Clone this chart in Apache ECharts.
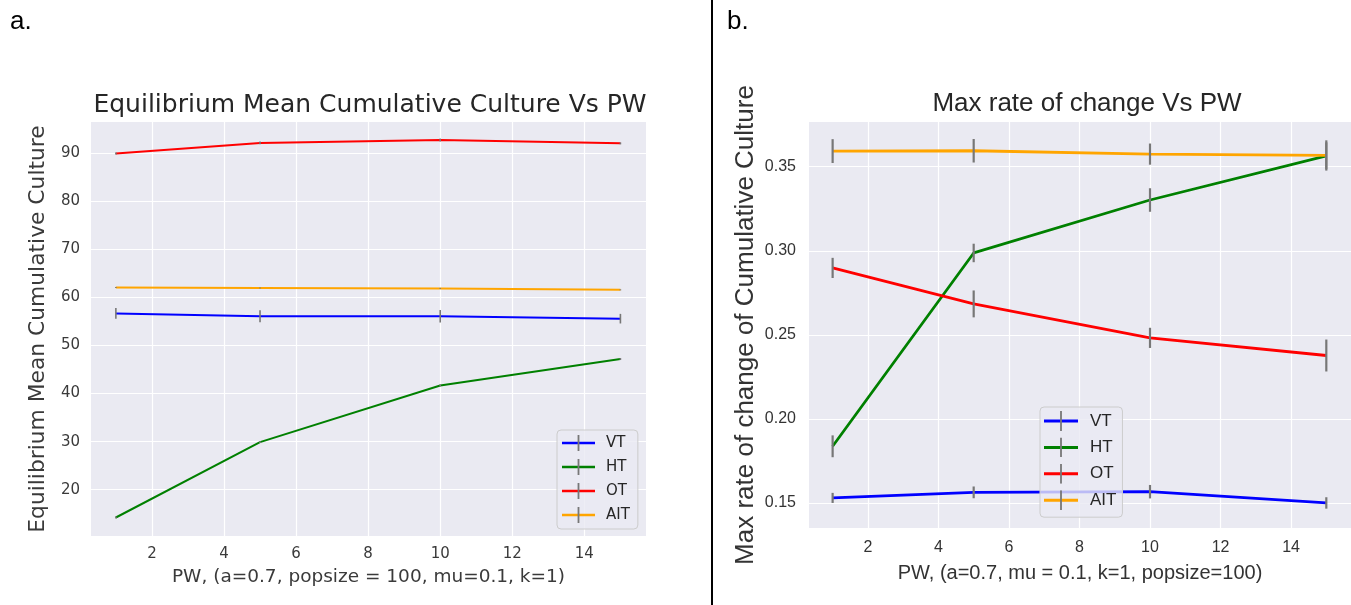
<!DOCTYPE html>
<html><head><meta charset="utf-8">
<script src="https://cdn.jsdelivr.net/npm/echarts@6/dist/echarts.min.js"></script>
<style>html,body{margin:0;padding:0;background:#fff}#c{width:1351px;height:605px}</style>
</head><body><div id="c"></div>
<script>
// ---- data ----
const pw = [1, 5, 10, 15];
const seriesNames = ['VT', 'HT', 'OT', 'AIT'];
const seriesColors = ['#0000ff', '#008000', '#ff0000', '#ffa500'];

// panel a: equilibrium mean cumulative culture
const eqVT  = [56.7, 56.1, 56.1, 55.6];
const eqHT  = [14.2, 29.9, 41.7, 47.2];
const eqOT  = [90.0, 92.2, 92.8, 92.1];
const eqAIT = [62.1, 62.0, 61.9, 61.6];
const eqVTerr  = [1.1, 1.25, 1.3, 1.0];
const eqHTerr  = [0.2, 0.2, 0.2, 0.2];
const eqOTerr  = [0.2, 0.3, 0.3, 0.2];
const eqAITerr = [0.1, 0.1, 0.1, 0.1];

// panel b: max rate of change
const rateVT  = [0.1530, 0.1563, 0.1567, 0.1500];
const rateHT  = [0.1837, 0.2987, 0.3302, 0.3565];
const rateOT  = [0.2898, 0.2684, 0.2482, 0.2377];
const rateAIT = [0.3593, 0.3595, 0.3575, 0.3567];
const rateVTerr  = [0.0030, 0.0035, 0.0040, 0.0034];
const rateHTerr  = [0.0065, 0.0055, 0.0070, 0.0080];
const rateOTerr  = [0.0060, 0.0080, 0.0060, 0.0095];
const rateAITerr = [0.0071, 0.0070, 0.0063, 0.0090];

// tick labels
const xTicks = [2, 4, 6, 8, 10, 12, 14];
const yTicksEq = [20, 30, 40, 50, 60, 70, 80, 90];
const yTicksRate = [0.15, 0.20, 0.25, 0.30, 0.35];

// ---- build ----
const eqVals = [eqVT, eqHT, eqOT, eqAIT];
const eqErrs = [eqVTerr, eqHTerr, eqOTerr, eqAITerr];
const rateVals = [rateVT, rateHT, rateOT, rateAIT];
const rateErrs = [rateVTerr, rateHTerr, rateOTerr, rateAITerr];

const FA = 'DejaVu Sans';
const FB = 'Liberation Sans';
const BG = '#EAEAF2';

function icon(color, w, lineLen, h, lw) {
  const svg = '<svg xmlns="http://www.w3.org/2000/svg" width="' + w + '" height="' + h + '" viewBox="0 0 ' + w + ' ' + h + '">' +
    '<line x1="0" y1="' + (h / 2) + '" x2="' + lineLen + '" y2="' + (h / 2) + '" stroke="' + color + '" stroke-width="' + lw + '"/>' +
    '<line x1="' + (lineLen / 2) + '" y1="0" x2="' + (lineLen / 2) + '" y2="' + h + '" stroke="#777777" stroke-width="1.8"/>' +
    '</svg>';
  return 'image://data:image/svg+xml;charset=utf-8,' + encodeURIComponent(svg);
}

function errRender(lw) {
  return function (params, api) {
    const x = api.value(0), y = api.value(1), e = api.value(2);
    const p1 = api.coord([x, y + e]);
    const p2 = api.coord([x, y - e]);
    return {
      type: 'line',
      shape: { x1: p1[0], y1: p1[1], x2: p2[0], y2: p2[1] },
      style: { stroke: '#777777', lineWidth: lw }
    };
  };
}

const series = [];
seriesNames.forEach((n, i) => {
  series.push({
    name: n, type: 'line', xAxisIndex: 0, yAxisIndex: 0,
    data: pw.map((x, j) => [x, eqVals[i][j]]),
    showSymbol: false, symbol: 'none', lineStyle: { color: seriesColors[i], width: 2 },
    itemStyle: { color: seriesColors[i] }, z: 3, animation: false
  });
  series.push({
    name: n + ' err a', type: 'custom', xAxisIndex: 0, yAxisIndex: 0,
    data: pw.map((x, j) => [x, eqVals[i][j], eqErrs[i][j]]),
    encode: { x: 0, y: 1 }, renderItem: errRender(1.6), z: 4, animation: false
  });
});
seriesNames.forEach((n, i) => {
  series.push({
    name: n, type: 'line', xAxisIndex: 1, yAxisIndex: 1,
    data: pw.map((x, j) => [x, rateVals[i][j]]),
    showSymbol: false, symbol: 'none', lineStyle: { color: seriesColors[i], width: 2.8 },
    itemStyle: { color: seriesColors[i] }, z: 3, animation: false
  });
  series.push({
    name: n + ' err b', type: 'custom', xAxisIndex: 1, yAxisIndex: 1,
    data: pw.map((x, j) => [x, rateVals[i][j], rateErrs[i][j]]),
    encode: { x: 0, y: 1 }, renderItem: errRender(2.2), z: 4, animation: false
  });
});

function xAxis(gi, min, max, font, fs, name, nfs, gap, col) {
  return {
    type: 'value', gridIndex: gi, min: min, max: max,
    axisLine: { show: false }, axisTick: { show: false, customValues: xTicks },
    axisLabel: { customValues: xTicks, margin: gi === 0 ? 11 : 12, fontFamily: font, fontSize: fs, color: col },
    splitLine: { show: true, lineStyle: { color: '#ffffff', width: 1.2 } },
    name: name, nameLocation: 'middle', nameGap: gap,
    nameTextStyle: { fontFamily: font, fontSize: nfs, color: col }
  };
}
function yAxis(gi, min, max, ticks, font, fs, name, nfs, gap, col, fmt) {
  return {
    type: 'value', gridIndex: gi, min: min, max: max,
    axisLine: { show: false }, axisTick: { show: false, customValues: ticks },
    axisLabel: { customValues: ticks, margin: gi === 0 ? 11 : 13, fontFamily: font, fontSize: fs, color: col, formatter: fmt },
    splitLine: { show: true, lineStyle: { color: '#ffffff', width: 1.2 } },
    name: name, nameLocation: 'middle', nameGap: gap, nameRotate: 90,
    nameTextStyle: { fontFamily: font, fontSize: nfs, color: col }
  };
}

const option = {
  animation: false,
  backgroundColor: '#ffffff',
  title: [
    { text: 'Equilibrium Mean Cumulative Culture Vs PW', left: 365, top: 88, textAlign: 'center',
      textStyle: { fontFamily: FA, fontSize: 25, fontWeight: 'normal', color: '#262626' } },
    { text: 'Max rate of change Vs PW', left: 1082, top: 86, textAlign: 'center',
      textStyle: { fontFamily: FB, fontSize: 26, fontWeight: 'normal', color: '#262626' } }
  ],
  grid: [
    { left: 91, top: 122, width: 555, height: 414, show: true, backgroundColor: BG, borderWidth: 0 },
    { left: 809, top: 122, width: 546, height: 406, show: true, backgroundColor: BG, borderWidth: 0 }
  ],
  xAxis: [
    xAxis(0, 0.31, 15.71, FA, 15, 'PW, (a=0.7, popsize = 100, mu=0.1, k=1)', 18.5, 32, '#3a3a3a'),
    xAxis(1, 0.33, 15.70, FB, 16, 'PW, (a=0.7, mu = 0.1, k=1, popsize=100)', 20, 35, '#333333')
  ],
  yAxis: [
    yAxis(0, 10.35, 96.55, yTicksEq, FA, 15, 'Equilibrium Mean Cumulative Culture', 21.8, 42, '#3a3a3a', v => String(v)),
    yAxis(1, 0.1351, 0.3766, yTicksRate, FB, 16, 'Max rate of change of Cumulative Culture', 26, 50, '#333333', v => v.toFixed(2))
  ],
  legend: [
    { orient: 'vertical', left: 557, top: 430, padding: [5, 8, 6, 5], itemGap: 8,
      itemWidth: 39, itemHeight: 16,
      backgroundColor: 'rgba(234,234,242,0.8)', borderColor: '#cccccc', borderWidth: 1, borderRadius: 4,
      textStyle: { fontFamily: FA, fontSize: 15, color: '#262626' },
      data: seriesNames.map((n, i) => ({ name: n, icon: icon(seriesColors[i], 39, 33, 16, 2.5) })),
      selectedMode: false },
    { orient: 'vertical', left: 1040, top: 407, padding: [4, 6, 7, 4], itemGap: 6.4,
      itemWidth: 41, itemHeight: 20,
      backgroundColor: 'rgba(234,234,242,0.8)', borderColor: '#cccccc', borderWidth: 1, borderRadius: 4,
      textStyle: { fontFamily: FB, fontSize: 17, color: '#262626' },
      data: seriesNames.map((n, i) => ({ name: n, icon: icon(seriesColors[i], 41, 34, 20, 3) })),
      selectedMode: false }
  ],
  graphic: [
    { type: 'line', shape: { x1: 712, y1: 0, x2: 712, y2: 605 }, style: { stroke: '#000000', lineWidth: 2 } },
    { type: 'text', left: 10, top: 9, style: { text: 'a.', fontFamily: FB, fontSize: 26, fill: '#000000' } },
    { type: 'text', left: 727, top: 9, style: { text: 'b.', fontFamily: FB, fontSize: 26, fill: '#000000' } }
  ],
  series: series
};

const chart = echarts.init(document.getElementById('c'), null, { renderer: 'canvas' });
chart.setOption(option);
</script>
</body></html>
